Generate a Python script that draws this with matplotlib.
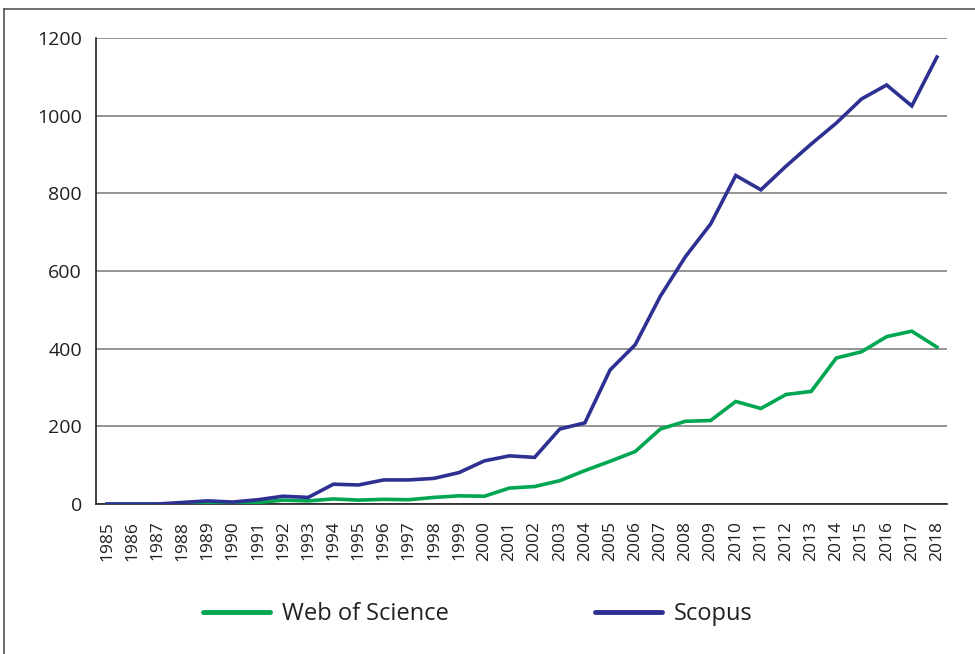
import matplotlib
matplotlib.use("Agg")
import matplotlib.pyplot as plt
from matplotlib.lines import Line2D

years = list(range(1985, 2019))
wos = [0, 0, 0, 0, 0, 0, 4, 10, 8, 13, 10, 12, 11, 17, 21, 20, 41, 45, 60, 86, 110, 135,
       193, 213, 215, 264, 246, 282, 290, 376, 392, 431, 445, 404]
scopus = [0, 0, 0, 4, 8, 5, 11, 20, 17, 51, 49, 62, 62, 66, 81, 111, 124, 120, 193, 209,
          345, 410, 535, 637, 721, 846, 809, 870, 927, 981, 1043, 1079, 1025, 1151]
yticks = [0, 200, 400, 600, 800, 1000, 1200]
series_names = ["Web of Science", "Scopus"]

plt.rcParams['font.family'] = ['Open Sans', 'DejaVu Sans']
fig = plt.figure(figsize=(9.75, 6.54), dpi=100)
ax = fig.add_axes([96/975, 1-504/654, (947-96)/975, (504-38)/654])

green = "#00A651"
blue = "#2E3192"
ax.plot(years, wos, color=green, lw=2.6, solid_joinstyle='miter', zorder=3)
ax.plot(years, scopus, color=blue, lw=2.6, solid_joinstyle='miter', zorder=3)

ax.set_ylim(0, 1200)
ax.set_xlim(1984.56, 2018.4)
ax.set_yticks(yticks)
ax.set_yticklabels([str(v) for v in yticks], fontsize=14, color="#231F20")
ax.set_xticks(years)
ax.set_xticklabels([str(y) for y in years], rotation=90, fontsize=12.5, color="#231F20")
ax.tick_params(axis='y', length=0, pad=10)
ax.tick_params(axis='x', length=0, pad=12)
ax.yaxis.grid(True, color="#808080", lw=1.2)
ax.set_axisbelow(True)
for s in ['top', 'right']:
    ax.spines[s].set_visible(False)
ax.spines['left'].set_color("#231F20")
ax.spines['bottom'].set_color("#231F20")
ax.spines['left'].set_linewidth(1.2)
ax.spines['bottom'].set_linewidth(1.2)

# outer frame lines
fig.add_artist(Line2D([4/975, 1], [1-9/654, 1-9/654], color="#555555", lw=1.2))
fig.add_artist(Line2D([4/975, 4/975], [0, 1-9/654], color="#555555", lw=1.2))

colors = [green, blue]
xstarts = [203/975, 595/975]
for name, col, x0 in zip(series_names, colors, xstarts):
    h = Line2D([], [], color=col, lw=3.5, solid_capstyle='round')
    leg = fig.legend([h], [name], loc='center left', bbox_to_anchor=(x0, 1-614/654),
                     frameon=False, fontsize=17, handlelength=2.85, handletextpad=0.5,
                     borderpad=0, borderaxespad=0)
    for t in leg.get_texts():
        t.set_color("#231F20")

fig.savefig("out.png", dpi=100)
